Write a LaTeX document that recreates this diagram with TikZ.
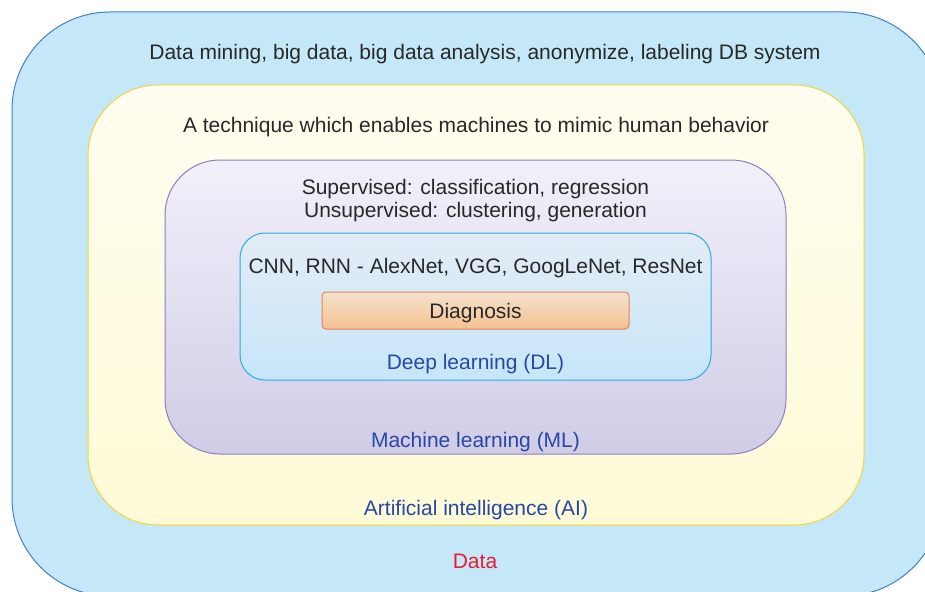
\documentclass[tikz,border=0pt]{standalone}
\usepackage{fontspec}
\setmainfont{Liberation Sans}
\usetikzlibrary{positioning}
\definecolor{skyfill}{RGB}{197,232,248}
\definecolor{skyline}{RGB}{62,128,200}
\definecolor{creamtop}{RGB}{255,253,240}
\definecolor{creambot}{RGB}{255,250,214}
\definecolor{creamline}{RGB}{242,212,60}
\definecolor{lilactop}{RGB}{242,240,250}
\definecolor{lilacbot}{RGB}{208,204,230}
\definecolor{lilacline}{RGB}{138,128,192}
\definecolor{icetop}{RGB}{228,236,246}
\definecolor{icebot}{RGB}{198,230,248}
\definecolor{iceline}{RGB}{40,172,232}
\definecolor{peachtop}{RGB}{242,228,205}
\definecolor{peachbot}{RGB}{246,192,146}
\definecolor{peachline}{RGB}{236,128,88}
\definecolor{inktext}{RGB}{40,40,40}
\definecolor{labelblue}{RGB}{40,72,165}
\definecolor{datared}{RGB}{232,28,52}
\tikzset{
  layer/.style={
    draw,
    line width=1pt,
    minimum width=#1
  },
  heading/.style={
    text=inktext,
    align=center,
    inner sep=0pt,
    font=\fontsize{21}{23.5}\selectfont
  },
  tag/.style={
    text=labelblue,
    inner sep=0pt,
    font=\fontsize{21}{23.5}\selectfont
  }
}

\begin{document}
\begin{tikzpicture}[x=1pt,y=-1pt]
\useasboundingbox (0,0) rectangle (925,591);
\clip (0,0) rectangle (925,591);
% nested boxes
\node[layer=930pt, minimum height=584pt, rounded corners=98pt, draw=skyline, fill=skyfill] (data) at (477,304) {};
\node[layer=776pt, minimum height=440pt, rounded corners=70pt, draw=creamline, top color=creamtop, bottom color=creambot] (ai) at (476,305) {};
\node[layer=621pt, minimum height=294pt, rounded corners=55pt, draw=lilacline, top color=lilactop, bottom color=lilacbot] (ml) at (475.5,307) {};
\node[layer=471pt, minimum height=147pt, rounded corners=25pt, draw=iceline, top color=icetop, bottom color=icebot] (dl) at (475.5,306.5) {};
\node[layer=307pt, minimum height=37pt, rounded corners=4pt, draw=peachline, top color=peachtop, bottom color=peachbot, heading, text height=16pt, text depth=1pt] (diag) at (475.5,310.5) {Diagnosis};
% texts
\node[heading, below=33pt of data.north, xshift=8pt] (datatxt) {Data mining, big data, big data analysis, anonymize, labeling DB system};
\node[heading, below=32.5pt of ai.north] (aitxt) {A technique which enables machines to mimic human behavior};
\node[heading, below=19.5pt of ml.north] (mltxt) {Supervised: classification, regression\\Unsupervised: clustering, generation};
\node[heading, below=26pt of dl.north] (dltxt) {CNN, RNN - AlexNet, VGG, GoogLeNet, ResNet};
\node[tag, above=6pt of dl.south] (dltag) {Deep learning (DL)};
\node[tag, above=2.5pt of ml.south] (mltag) {Machine learning (ML)};
\node[tag, above=5.5pt of ai.south] (aitag) {Artificial intelligence (AI)};
\node[tag, text=datared, above=28pt of data.south, xshift=-2pt] (datatag) {Data};
\end{tikzpicture}
\end{document}
